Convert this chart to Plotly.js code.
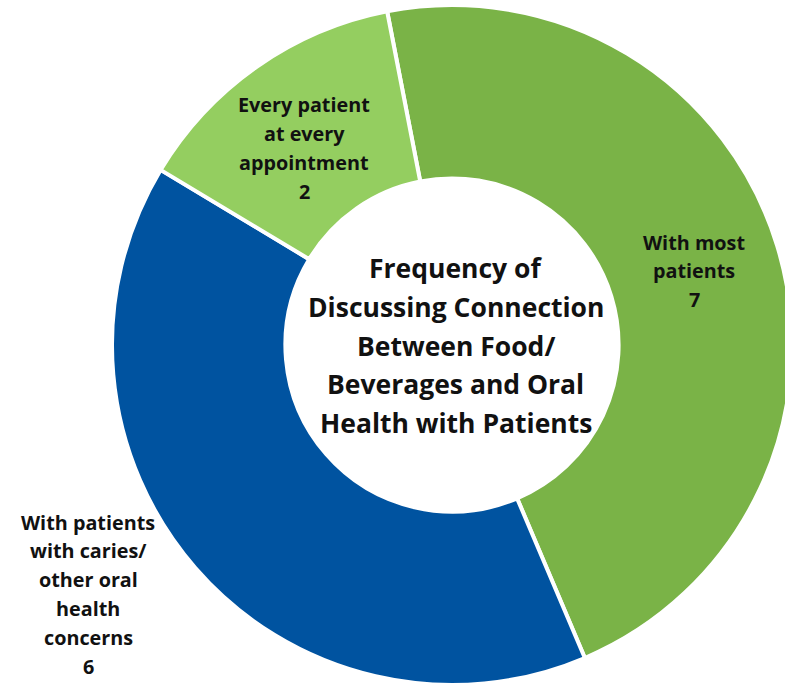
<!DOCTYPE html>
<html>
<head>
<meta charset="utf-8">
<script src="https://cdn.plot.ly/plotly-3.0.1.min.js"></script>
<style>
html, body { margin: 0; padding: 0; overflow: hidden; background: #fff; }
#chart { width: 800px; height: 685px; }
</style>
</head>
<body>
<div id="chart"></div>
<script>
// Data
const categories = [
  "With most patients",
  "With patients with caries/ other oral health concerns",
  "Every patient at every appointment"
];
const values = [7, 6, 2];
const labelLines = [
  ["With most", "patients"],
  ["With patients", "with caries/", "other oral", "health", "concerns"],
  ["Every patient", "at every", "appointment"]
];
const titleLines = [
  "Frequency of",
  "Discussing Connection",
  "Between Food/",
  "Beverages and Oral",
  "Health with Patients"
];
const colors = ["#7AB347", "#0053A0", "#94CE60"];

// Layout helpers (pixel positions of label blocks)
const W = 800, H = 685;
const labelPos = [
  { x: 694, y: 242, gap: 28.5 },
  { x: 88, y: 522, gap: 28.8 },
  { x: 304, y: 104, gap: 29 }
];
const titlePos = { x: 456, y: 268, gap: 38.8 };

const font = "'Open Sans', Lato, sans-serif";
const annotations = [];
function addLines(lines, pos, size) {
  lines.forEach((t, i) => {
    annotations.push({
      text: "<b>" + t + "</b>",
      x: pos.x / W, y: 1 - (pos.y + i * pos.gap) / H,
      xref: "paper", yref: "paper",
      xanchor: "center", yanchor: "middle",
      showarrow: false,
      font: { family: font, size: size, color: "#111" }
    });
  });
}
labelLines.forEach((lines, i) => {
  addLines(lines.concat([String(values[i])]), labelPos[i], 19.8);
});
addLines(titleLines, titlePos, 26.5);

const trace = {
  type: "pie",
  labels: categories,
  values: values,
  hole: 0.49,
  sort: false,
  direction: "clockwise",
  rotation: -11,
  textinfo: "none",
  hoverinfo: "label+value",
  marker: { colors: colors, line: { color: "#ffffff", width: 4 } },
  domain: { x: [112 / W, 792 / W], y: [0, 680 / H] },
  showlegend: false
};

Plotly.newPlot("chart", [trace], {
  width: W, height: H,
  margin: { l: 0, r: 0, t: 0, b: 0 },
  paper_bgcolor: "#ffffff",
  showlegend: false,
  annotations: annotations
}, { displayModeBar: false, staticPlot: true });
</script>
</body>
</html>
